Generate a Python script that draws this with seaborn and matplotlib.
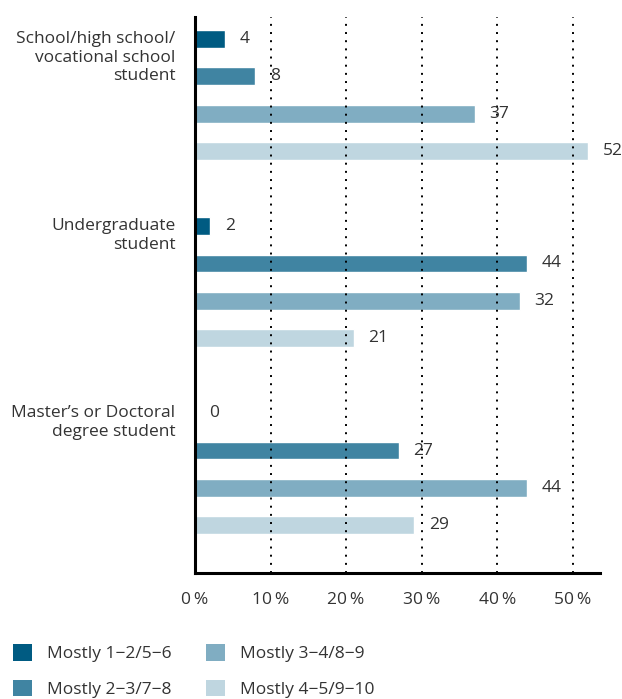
import matplotlib
matplotlib.use("Agg")
import matplotlib.pyplot as plt
import seaborn as sns
import pandas as pd
from matplotlib.patches import Patch

categories = ["School/high school/\nvocational school\nstudent",
              "Undergraduate\nstudent",
              "Master\u2019s or Doctoral\ndegree student"]
series = ["Mostly 1\u22122/5\u22126", "Mostly 2\u22123/7\u22128",
          "Mostly 3\u22124/8\u22129", "Mostly 4\u22125/9\u221210"]
# bar lengths as drawn in the picture
values_s1 = [4, 2, 0]
values_s2 = [8, 44, 27]
values_s3 = [37, 43, 44]
values_s4 = [52, 21, 29]
# printed value labels
labels_s1 = ["4", "2", "0"]
labels_s2 = ["8", "44", "27"]
labels_s3 = ["37", "32", "44"]
labels_s4 = ["52", "21", "29"]
xtick_values = [0, 10, 20, 30, 40, 50]
xtick_labels = ["0\u2009%", "10\u2009%", "20\u2009%", "30\u2009%", "40\u2009%", "50\u2009%"]

colors = ["#005b82", "#4084a2", "#80adc2", "#bfd6e0"]
text_color = "#333333"
fs = 12.5

sns.set_theme(style="white")
plt.rcParams["font.family"] = ["Open Sans", "DejaVu Sans"]

all_vals = [values_s1, values_s2, values_s3, values_s4]
all_labels = [labels_s1, labels_s2, labels_s3, labels_s4]
rows = []
for s, vals in zip(series, all_vals):
    for c, v in zip(categories, vals):
        rows.append({"category": c, "series": s, "value": v})
df = pd.DataFrame(rows)

fig = plt.figure(figsize=(6.22, 6.99), dpi=100)
ax = fig.add_axes([195 / 622, 1 - 573 / 699, (600 - 195) / 622, (573 - 17) / 699])

sns.barplot(data=df, y="category", x="value", hue="series", order=categories,
            hue_order=series, palette=colors, orient="h", width=0.8, gap=0.52,
            saturation=1, ax=ax, legend=True, errorbar=None)

for cont, labs in zip(ax.containers, all_labels):
    ax.bar_label(cont, labels=labs, padding=10.5, fontsize=fs, color=text_color)

ax.set_xlim(0, 53.6)
ax.set_ylim(2.555, -0.418)
ax.set_xticks(xtick_values)
ax.set_xticklabels(xtick_labels, fontsize=fs, color=text_color)
ax.tick_params(axis="x", length=0, pad=13.5)
ax.set_yticks([])
ax.set_xlabel("")
ax.set_ylabel("")
ax.xaxis.grid(True, linestyle=(0, (1, 3.2)), color="black", linewidth=1.4)
ax.set_axisbelow(False)
for side in ["top", "right"]:
    ax.spines[side].set_visible(False)
for side in ["left", "bottom"]:
    ax.spines[side].set_color("black")
    ax.spines[side].set_linewidth(2.2)

for i, cat in enumerate(categories):
    ax.annotate(cat, xy=(0, i - 0.3), xycoords=("axes fraction", "data"),
                xytext=(-14, 5.5), textcoords="offset points",
                ha="right", va="top", fontsize=fs, color=text_color,
                linespacing=1.2)

ax.get_legend().remove()
handles = [Patch(facecolor=c, edgecolor="none") for c in colors]
fig.legend(handles, series, loc="upper left", bbox_to_anchor=(13 / 622, 1 - 644 / 699),
           ncol=2, frameon=False, fontsize=fs, handlelength=1.1, handleheight=1.1,
           handletextpad=0.85, labelspacing=1.0, columnspacing=2.0, borderpad=0,
           borderaxespad=0, labelcolor=text_color)

fig.savefig("out.png", dpi=100)
